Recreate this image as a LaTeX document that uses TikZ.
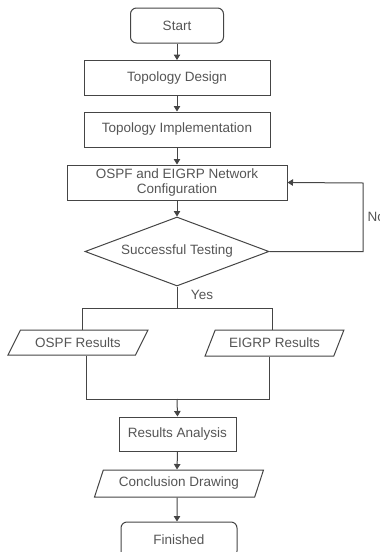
\documentclass[tikz,border=0pt]{standalone}
\usepackage{fontspec}
\setmainfont{Liberation Sans}
\usetikzlibrary{arrows.meta,shapes.geometric}
\definecolor{lc}{HTML}{454545}
\definecolor{tc}{HTML}{555555}
\begin{document}
\begin{tikzpicture}[x=1pt,y=-1pt,
  every node/.style={font=\fontsize{13.5}{15.5}\selectfont, text=tc},
  box/.style={draw=lc, line width=1pt, rectangle, minimum width=#1, minimum height=35pt, inner sep=0pt},
  rbox/.style={box=#1, rounded corners=6pt},
  para/.style={draw=lc, line width=1pt, trapezium, trapezium stretches=true, inner sep=0pt},
  line/.style={draw=lc, line width=1pt},
  arr/.style={line, -{Triangle[length=5.5pt,width=6.5pt]}}]
\useasboundingbox (0,0) rectangle (380,552);
\node[rbox=93pt] (start) at (177,25.5) {Start};
\node[box=186pt] (td) at (177,78) {Topology Design};
\node[box=186pt] (ti) at (177,129.5) {Topology Implementation};
\node[box=220pt, align=center] (cfg) at (177,182.5) {OSPF and EIGRP Network\\Configuration};
\node[draw=lc, line width=1pt, diamond, minimum width=184pt, minimum height=69pt, aspect=2.67, inner sep=0pt] (dia) at (177,251.5) {Successful Testing};
\node[anchor=west] (no) at (364,217) {No};
\node (yes) at (202,295) {Yes};
\node[para, minimum width=140pt, minimum height=25pt, trapezium left angle=47, trapezium right angle=133] (ospf) at (78,342.5) {OSPF Results};
\node[para, minimum width=139pt, minimum height=26pt, trapezium left angle=52, trapezium right angle=128] (eigrp) at (274.5,343) {EIGRP Results};
\node[box=117pt, minimum height=34pt] (ra) at (177.5,434) {Results Analysis};
\node[para, minimum width=169pt, minimum height=27pt, trapezium left angle=61, trapezium right angle=119] (concl) at (179,483.5) {Conclusion Drawing};
\node[rbox=116pt] (fin) at (179,539.5) {Finished};
\coordinate (noc) at (363,183);
\coordinate (split) at (177,308);
\coordinate (join) at (177,399);
\draw[arr] (start) -- (td);
\draw[arr] (td) -- (ti);
\draw[arr] (ti) -- (cfg);
\draw[arr] (cfg) -- (dia);
\draw[arr] (dia.east) -| (noc) -- (cfg.east);
\draw[line] (dia.south) -- (split);
\draw[line] (split) -| ([xshift=4pt]ospf.north);
\draw[line] (split) -| ([xshift=-2.5pt]eigrp.north);
\draw[line] ([xshift=8pt]ospf.south) |- (join);
\draw[line] ([xshift=-5.5pt]eigrp.south) |- (join);
\draw[arr] (join) -- (ra.north);
\draw[arr] (ra.south) -- ([xshift=-2pt]concl.north);
\draw[arr] ([xshift=-2pt]concl.south) -- ([xshift=-2pt]fin.north);
\end{tikzpicture}
\end{document}
